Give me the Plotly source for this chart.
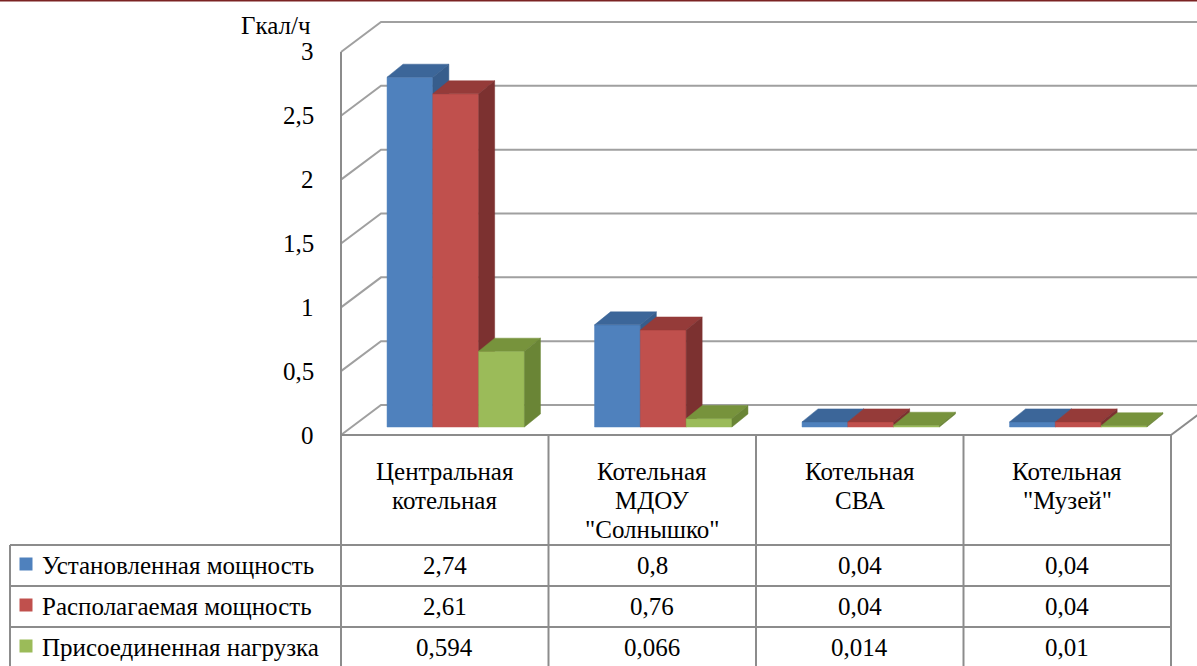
import plotly.graph_objects as go

# ---------------- data ----------------
categories = ["Центральная<br>котельная",
              "Котельная<br>МДОУ<br>\"Солнышко\"",
              "Котельная<br>СВА",
              "Котельная<br>\"Музей\""]
series_names = ["Установленная мощность",
                "Располагаемая мощность",
                "Присоединенная нагрузка"]
installed = [2.74, 0.8, 0.04, 0.04]
available = [2.61, 0.76, 0.04, 0.04]
connected = [0.594, 0.066, 0.014, 0.01]
y_ticks = [0, 0.5, 1, 1.5, 2, 2.5, 3]
unit_label = "Гкал/ч"

series_values = [installed, available, connected]
front_colors = ["#4F81BD", "#C0504D", "#9BBB59"]
top_colors = ["#3C6699", "#953B39", "#77933C"]
side_colors = ["#375D8C", "#7C3130", "#6A8536"]

# ---------------- geometry ----------------
W, H = 1197, 666
PXX, PXY = 207.5, 127.67          # pixels per x unit / y unit
X0PX, Y0PX = 341, 435             # pixel position of x=-0.5 / y=0


def xpx(px):
    return -0.5 + (px - X0PX) / PXX


def ypx(py):
    return (Y0PX - py) / PXY


def ddx(px):
    return px / PXX


def ddy(px):
    return px / PXY


x_range = [xpx(0), xpx(W)]
y_range = [ypx(H), ypx(0)]
n = len(categories)
WX, WY = ddx(40), ddy(30)        # wall depth
FX, FY = ddx(11), ddy(8)         # bar front plane offset
DX, DY = ddx(16), ddy(13)        # bar depth
BW = ddx(45.8)                   # bar width

GRID = "#A0A0A0"
TABLE = "#8C8C8C"
FONT = "Liberation Serif"
FS = 25
TXT = dict(family=FONT, size=FS, color="black")

fig = go.Figure()

# back wall / side wall grid lines
gx, gy = [], []
for v in y_ticks:
    gx += [-0.5, -0.5 + WX, n - 0.5 + WX, None]
    gy += [v, v + WY, v + WY, None]
fig.add_trace(go.Scatter(x=gx, y=gy, mode="lines", line=dict(color=GRID, width=2),
                         hoverinfo="skip", showlegend=False))

# bars (pseudo 3D)
for k, vals in enumerate(series_values):
    fxs, fys, txs, tys, sxs, sys_ = [], [], [], [], [], []
    for i, v in enumerate(vals):
        xl = i - 1.5 * BW + k * BW + FX
        xr = xl + BW
        yb = FY
        yt = v + FY
        fxs += [xl, xr, xr, xl, xl, None]
        fys += [yb, yb, yt, yt, yb, None]
        txs += [xl, xr, xr + DX, xl + DX, xl, None]
        tys += [yt, yt, yt + DY, yt + DY, yt, None]
        sxs += [xr, xr + DX, xr + DX, xr, xr, None]
        sys_ += [yb, yb + DY, yt + DY, yt, yb, None]
    for xs, ys, col in [(fxs, fys, front_colors[k]), (txs, tys, top_colors[k]),
                        (sxs, sys_, side_colors[k])]:
        fig.add_trace(go.Scatter(x=xs, y=ys, mode="lines", fill="toself", fillcolor=col,
                                 line=dict(color=col, width=0.5),
                                 hoverinfo="skip", showlegend=False))

# front axis line + floor edges
ax_x = [-0.5, -0.5, None, -0.5, n - 0.5, n - 0.5 + WX]
ax_y = [y_ticks[-1], ypx(H), None, 0, 0, WY]
fig.add_trace(go.Scatter(x=ax_x, y=ax_y, mode="lines", line=dict(color=TABLE, width=2),
                         hoverinfo="skip", showlegend=False))

# data table grid
row_lines = [545, 586, 627]
tx, ty = [], []
for py in row_lines:
    tx += [xpx(10), n - 0.5, None]
    ty += [ypx(py), ypx(py), None]
for i in range(1, n + 1):
    tx += [i - 0.5, i - 0.5, None]
    ty += [0, ypx(H), None]
tx += [xpx(10), xpx(10), None]
ty += [ypx(row_lines[0]), ypx(H), None]
fig.add_trace(go.Scatter(x=tx, y=ty, mode="lines", line=dict(color=TABLE, width=2),
                         hoverinfo="skip", showlegend=False))

annotations = []
# y tick labels
for v in y_ticks:
    annotations.append(dict(x=-0.5, y=v, xref="x", yref="y", xanchor="right", yanchor="middle",
                            xshift=-25, showarrow=False,
                            text=("%g" % v).replace(".", ","), font=TXT))
annotations.append(dict(x=-0.5, y=ypx(25), xref="x", yref="y", xanchor="right",
                        yanchor="middle", xshift=-28, showarrow=False,
                        text=unit_label, font=TXT))

# header row (one annotation per text line, fixed line pitch)
for i, c in enumerate(categories):
    for j, line in enumerate(c.split("<br>")):
        annotations.append(dict(x=i, y=ypx(471 + 29 * j), xref="x", yref="y",
                                xanchor="center", yanchor="middle",
                                showarrow=False, text=line, font=TXT))

# value rows + legend keys
row_centers = [565, 606, 647]
for k, vals in enumerate(series_values):
    yc = ypx(row_centers[k])
    annotations.append(dict(x=xpx(40), y=yc, xref="x", yref="y", xanchor="left", yanchor="middle",
                            showarrow=False, text=series_names[k], font=TXT))
    for i, v in enumerate(vals):
        annotations.append(dict(x=i, y=yc, xref="x", yref="y", xanchor="center", yanchor="middle",
                                showarrow=False, text=("%g" % v).replace(".", ","), font=TXT))
    fig.add_trace(go.Scatter(x=[xpx(26)], y=[ypx(row_centers[k] - 1)], mode="markers",
                             marker=dict(symbol="square", size=13, color=front_colors[k]),
                             hoverinfo="skip", showlegend=False))

# top decorative rule
fig.add_shape(type="line", xref="paper", yref="paper", x0=0, x1=1, y0=1, y1=1,
              line=dict(color="#7B2323", width=3))

fig.update_layout(
    width=W, height=H,
    margin=dict(l=0, r=0, t=0, b=0),
    font=dict(family=FONT, size=FS, color="black"),
    paper_bgcolor="white", plot_bgcolor="white",
    xaxis=dict(range=x_range, visible=False, fixedrange=True),
    yaxis=dict(range=y_range, visible=False, fixedrange=True),
    annotations=annotations,
    showlegend=False,
)

fig.write_html("out.html", config=dict(displayModeBar=False),
               post_script="document.body.style.margin='0';")
